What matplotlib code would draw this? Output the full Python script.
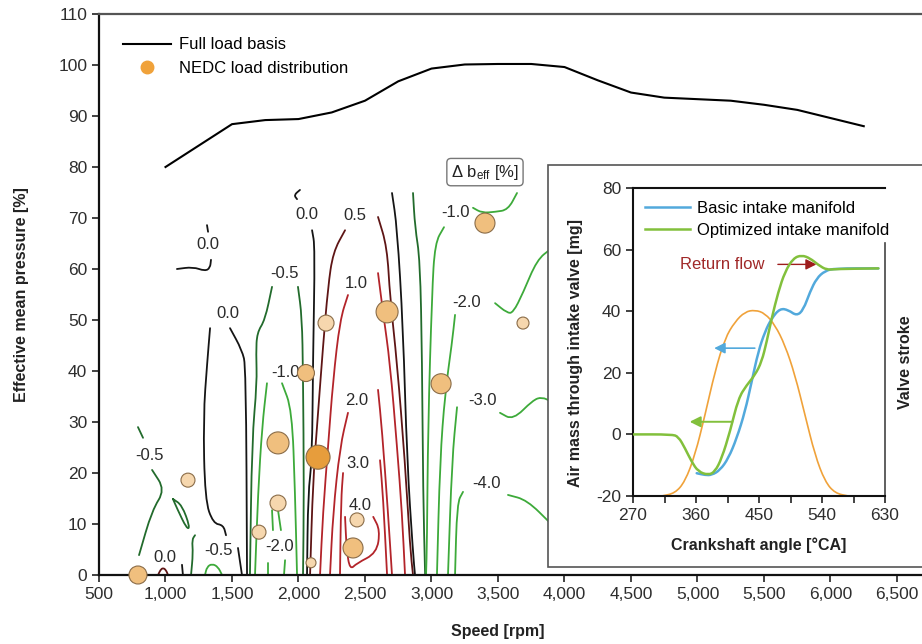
import matplotlib
matplotlib.use("Agg")
import matplotlib.pyplot as plt
from matplotlib.lines import Line2D
from matplotlib.patches import Rectangle, PathPatch
from matplotlib.path import Path
from matplotlib.ticker import FuncFormatter

plt.rcParams['font.family'] = ['Liberation Sans', 'DejaVu Sans']
plt.rcParams['mathtext.fontset'] = 'custom'
plt.rcParams['mathtext.rm'] = 'Liberation Sans'
plt.rcParams['mathtext.it'] = 'Liberation Sans:italic'
plt.rcParams['axes.unicode_minus'] = False

# ---------------- main chart data ----------------
full_load_rpm = [1000, 1250, 1500, 1750, 2000, 2250, 2500, 2750, 3000, 3250, 3500,
                 3750, 4000, 4250, 4500, 4750, 5000, 5250, 5500, 5750, 6000, 6250]
full_load_bmep = [80, 84.2, 88.4, 89.2, 89.4, 90.7, 93, 96.8, 99.3, 100.1, 100.2,
                  100.2, 99.6, 97, 94.6, 93.6, 93.3, 93, 92.2, 91.2, 89.6, 88]

nedc_rpm = [793, 1169, 1703, 1846, 1846, 2056, 2147, 2094, 2207, 2666, 2440, 2410, 3072, 3402, 3688]
nedc_load = [0.0, 18.6, 8.4, 25.9, 14.1, 39.6, 23.1, 2.4, 49.4, 51.6, 10.8, 5.3, 37.5, 69.0, 49.4]
nedc_weight = [9, 7, 7, 11, 8, 8.5, 12, 5, 8, 11, 7, 10, 10, 10, 6]

# iso-lines of delta b_eff [%]: (rpm, load) points
iso_m05_a1 = [(793, 29.0), (831, 26.9)]
iso_m05_a2 = [(899, 20.6), (996, 16.7), (899, 12.7), (801, 3.9)]
iso_m05_loop = [(1056, 14.9), (1124, 13.7), (1184, 9.4), (1161, 9.0), (1086, 13.1), (1056, 14.9)]
iso_p05_arc = [(944, 0), (962, 1.0), (981, 1.4), (1003, 1.0), (1019, 0)]
iso_0_tick_a = [(1124, 2.0), (1131, 0)]
iso_0_upper = [(1086, 60.0), (1207, 60.4), (1297, 59.6), (1335, 60.2), (1342, 61.8)]
iso_0_upper_tick = [(1312, 68.6), (1320, 67.3)]
iso_0_mid_l = [(1335, 48.4), (1314, 41.8), (1284, 31.0), (1297, 14.7), (1359, 10.1), (1435, 9.8), (1455, 7.8)]
iso_0_mid_r = [(1485, 48.4), (1575, 44.1), (1605, 40.8), (1613, 0)]
iso_0_tick_b = [(1545, 5.3), (1575, 0)]
iso_m05_b = [(1222, 7.8), (1199, 6.9), (1207, 4.3), (1192, 0)]
iso_m1_arch = [(1297, 0), (1312, 1.6), (1350, 2.2), (1395, 1.6), (1425, 0)]
iso_m05_c_l = [(1801, 56.5), (1748, 50.0), (1688, 47.5), (1681, 43.5), (1688, 37.6), (1650, 26.5), (1635, 0)]
iso_m05_c_r = [(1996, 56.5), (2026, 50.6), (2034, 39.6), (2041, 16.1), (2034, 0)]
iso_m1_b_l = [(1763, 37.6), (1726, 29.0), (1696, 16.1), (1673, 0)]
iso_m1_b_r = [(1876, 37.6), (1951, 32.4), (1974, 16.1), (1989, 0)]
iso_m2_p1 = [(1801, 12.7), (1808, 8.8)]
iso_m2_p2 = [(1846, 12.7), (1868, 8.8)]
iso_m2_p3 = [(1771, 2.4), (1771, 0)]
iso_m2_p4 = [(1899, 2.9), (1891, 0)]
iso_0_c = [(2102, 67.6), (2124, 64.3), (2109, 42.2), (2102, 22.5), (2072, 16.1), (2064, 0)]
iso_0_c_tick = [(2011, 75.5), (1966, 74.5), (1989, 73.7)]
iso_p05_l = [(2350, 67.6), (2260, 63.3), (2222, 56.5), (2184, 44.7), (2147, 31.8), (2109, 18.6), (2087, 0)]
iso_p05_r = [(2598, 70.2), (2666, 64.3), (2688, 54.5), (2741, 41.6), (2801, 22.0), (2839, 5.5), (2861, 0)]
iso_p1_l = [(2372, 54.9), (2312, 50.0), (2260, 38.2), (2222, 25.1), (2184, 12.2), (2162, 0)]
iso_p1_r = [(2598, 59.2), (2636, 51.4), (2688, 41.6), (2741, 25.1), (2778, 12.2), (2801, 0)]
iso_p2_l = [(2372, 31.8), (2312, 25.1), (2260, 12.2), (2237, 0)]
iso_p2_r = [(2598, 36.3), (2628, 28.4), (2673, 12.2), (2703, 0)]
iso_p3_l = [(2335, 20.0), (2320, 14.7), (2312, 0)]
iso_p3_r = [(2613, 22.5), (2636, 15.3), (2666, 0)]
iso_p4 = [(2350, 11.4), (2362, 4.9), (2387, 1.0), (2438, 2.3), (2588, 4.3), (2613, 8.8), (2562, 11.4)]
iso_0_d = [(2703, 74.9), (2741, 68.2), (2786, 48.6), (2816, 22.5), (2861, 4.3), (2876, 0)]
iso_m05_d = [(2861, 74.9), (2876, 68.2), (2914, 61.8), (2929, 42.2), (2937, 16.1), (2952, 0)]
iso_m1_l = [(3094, 68.2), (3026, 65.1), (3004, 55.3), (2974, 29.0), (2966, 6.3), (2959, 0)]
iso_m1_r = [(3312, 72.0), (3380, 71.0), (3478, 71.2), (3575, 71.6), (3643, 74.9)]
iso_m2_l = [(3177, 51.0), (3154, 45.5), (3102, 35.7), (3064, 22.5), (3041, 0)]
iso_m2_r = [(3478, 53.3), (3568, 51.4), (3613, 51.4), (3688, 55.3), (3793, 61.8), (3900, 64.0)]
iso_m3_l = [(3192, 32.9), (3154, 22.5), (3124, 0)]
iso_m3_r = [(3515, 31.8), (3613, 30.4), (3763, 34.3), (3831, 34.9), (3900, 34.0)]
iso_m4_l = [(3237, 16.3), (3192, 14.1), (3177, 0)]
iso_m4_r = [(3575, 15.7), (3718, 14.7), (3900, 10.0)]

iso_label_text = ["-0.5", "0.0", "0.0", "0.0", "-0.5", "-0.5", "-1.0", "-2.0", "0.0", "0.5",
                  "1.0", "2.0", "3.0", "4.0", "-1.0", "-2.0", "-3.0", "-4.0"]
iso_label_rpm = [883, 1320, 1470, 996, 1395, 1891, 1899, 1861, 2064, 2425,
                 2432, 2440, 2447, 2462, 3177, 3267, 3387, 3417]
iso_label_load = [23.5, 64.9, 51.2, 3.5, 4.9, 59.2, 39.8, 5.5, 70.6, 70.4,
                  57.1, 34.3, 21.8, 13.7, 71.0, 53.5, 34.3, 18.0]

# ---------------- inset data ----------------
basic_deg = [361, 372.9, 382.4, 394.3, 406.2, 418.1, 430, 439.5, 449, 458.6, 468.1, 480,
             491.9, 503.8, 513.3, 522.9, 532.4, 544.3, 558.6, 620.5]
basic_mass = [-12.6, -13.2, -13.2, -11.6, -7.8, -1.3, 7.4, 17.1, 26.9, 33.4, 37.7, 40.9,
              40.4, 38.5, 40.4, 46.3, 50.7, 53.1, 53.9, 53.9]
opt_deg = [270.5, 325.2, 334.8, 344.3, 353.8, 363.3, 377.6, 387.1, 396.7, 408.6, 420.5, 432.4,
           444.3, 453.8, 461, 468.1, 477.6, 487.1, 499, 510.9, 522.9, 534.8, 546.7, 558.6, 620.5]
opt_mass = [0, 0, -0.7, -4.5, -8.9, -12.1, -13.2, -12.1, -7.8, 0.9, 11.7, 16.0,
            19.3, 23.6, 30.1, 37.7, 46.3, 52.8, 57.2, 58.2, 57.2, 55.0, 53.4, 53.7, 53.9]
stroke_deg = [311, 330, 344.3, 358.6, 372.9, 387.1, 401.4, 415.7, 430, 444.3, 458.6, 472.9,
              487.1, 501.4, 515.7, 530, 544.3, 558.6, 577.6]
stroke_val = [-20, -19.1, -15.3, -6.7, 6.3, 20.4, 31.2, 36.6, 39.8, 40.4, 39.3, 35.5,
              29, 19.3, 6.3, -6.7, -15.3, -19.1, -20]

# ---------------- styles ----------------
C_BLACK = '#151515'
C_DKGREEN = '#226b2c'
C_GREEN = '#3daa3a'
C_DKRED = '#5e1515'
C_RED = '#b3242a'
C_BLUE = '#52a9dc'
C_LGREEN = '#82c03c'
C_ORANGE = '#f0a23a'

iso_lines = [
    (iso_m05_a1, C_DKGREEN), (iso_m05_a2, C_DKGREEN), (iso_m05_loop, C_DKGREEN),
    (iso_p05_arc, C_DKRED), (iso_0_tick_a, C_BLACK), (iso_0_upper, C_BLACK),
    (iso_0_upper_tick, C_BLACK), (iso_0_mid_l, C_BLACK), (iso_0_mid_r, C_BLACK),
    (iso_0_tick_b, C_BLACK), (iso_m05_b, C_DKGREEN), (iso_m1_arch, C_GREEN),
    (iso_m05_c_l, C_DKGREEN), (iso_m05_c_r, C_DKGREEN), (iso_m1_b_l, C_GREEN),
    (iso_m1_b_r, C_GREEN), (iso_m2_p1, C_GREEN), (iso_m2_p2, C_GREEN),
    (iso_m2_p3, C_GREEN), (iso_m2_p4, C_GREEN), (iso_0_c, C_BLACK), (iso_0_c_tick, C_BLACK),
    (iso_p05_l, C_DKRED), (iso_p05_r, C_DKRED), (iso_p1_l, C_RED), (iso_p1_r, C_RED),
    (iso_p2_l, C_RED), (iso_p2_r, C_RED), (iso_p3_l, C_RED), (iso_p3_r, C_RED),
    (iso_p4, C_RED), (iso_0_d, C_BLACK), (iso_m05_d, C_DKGREEN),
    (iso_m1_l, C_GREEN), (iso_m1_r, C_GREEN), (iso_m2_l, C_GREEN), (iso_m2_r, C_GREEN),
    (iso_m3_l, C_GREEN), (iso_m3_r, C_GREEN), (iso_m4_l, C_GREEN), (iso_m4_r, C_GREEN),
]


def smooth_path(xs, ys):
    """Polyline through the points with rounded corners (quadratic Bezier at vertices)."""
    pts = list(zip(xs, ys))
    if len(pts) < 3:
        return Path(pts, [Path.MOVETO] + [Path.LINETO] * (len(pts) - 1))
    verts = [pts[0]]
    codes = [Path.MOVETO]
    mid = lambda a, b: ((a[0] + b[0]) / 2, (a[1] + b[1]) / 2)
    verts.append(mid(pts[0], pts[1]))
    codes.append(Path.LINETO)
    for i in range(1, len(pts) - 1):
        verts += [pts[i], mid(pts[i], pts[i + 1])]
        codes += [Path.CURVE3, Path.CURVE3]
    verts.append(pts[-1])
    codes.append(Path.LINETO)
    return Path(verts, codes)


def draw_curve(axis, xs, ys, **kw):
    patch = PathPatch(smooth_path(xs, ys), fill=False, transform=axis.transData,
                      capstyle='round', joinstyle='round', **kw)
    axis.add_patch(patch)
    return patch


W, H = 922, 644
fig = plt.figure(figsize=(W / 100, H / 100), dpi=100)
ax = fig.add_axes([99 / W, 1 - 575 / H, (W - 99) / W, (575 - 14) / H])
ax.set_xlim(500, 6688)
ax.set_ylim(0, 110)

for pts, col in iso_lines:
    xs = [p[0] for p in pts]
    ys = [p[1] for p in pts]
    draw_curve(ax, xs, ys, edgecolor=col, lw=1.3, zorder=2)

for t, x, y in zip(iso_label_text, iso_label_rpm, iso_label_load):
    ax.text(x, y, t, ha='center', va='center', fontsize=12, color='#2a2a2a', zorder=3)

ax.plot(full_load_rpm, full_load_bmep, color='black', lw=1.5, zorder=3)


def bubble_color(w):
    if w >= 11.5:
        return '#e79d3c'
    if w >= 8.5:
        return '#f0bf7e'
    return '#f6d7ae'


sizes = [(2 * w * 0.72) ** 2 for w in nedc_weight]
colors = [bubble_color(w) for w in nedc_weight]
ax.scatter(nedc_rpm, nedc_load, s=sizes, c=colors, edgecolors='#8a6c48',
           linewidths=0.8, zorder=4, clip_on=False)

ax.text(3402, 79.0, r'$\Delta$ b$_{\mathregular{eff}}$ [%]', ha='center', va='center',
        fontsize=12, color='#222', zorder=5,
        bbox=dict(boxstyle='round,pad=0.25', fc='white', ec='#777777', lw=1))

xt = list(range(500, 6501, 500))
ax.set_xticks(xt)
ax.xaxis.set_major_formatter(FuncFormatter(lambda v, p: f"{int(v):,}"))
ax.set_yticks(range(0, 111, 10))
ax.tick_params(direction='out', length=5, width=1.2, labelsize=12.5, labelcolor='#2e2e2e',
               color='#222')
for s in ['left', 'bottom']:
    ax.spines[s].set_linewidth(1.6)
    ax.spines[s].set_color('#111')
ax.spines['top'].set_color('#555')
ax.spines['top'].set_linewidth(1.6)
ax.spines['right'].set_visible(False)

ax.set_xlabel('Speed [rpm]', fontsize=11.5, fontweight='bold', color='#222')
ax.xaxis.set_label_coords(0.484, -0.088)
ax.set_ylabel('Effective mean pressure [%]', fontsize=11.5, fontweight='bold', color='#222')
ax.yaxis.set_label_coords(-0.085, 0.5)

handles = [Line2D([], [], color='black', lw=1.5),
           Line2D([], [], marker='o', ls='', color=C_ORANGE, markersize=9,
                  markeredgecolor=C_ORANGE)]
ax.legend(handles, ['Full load basis', 'NEDC load distribution'], loc='upper left',
          bbox_to_anchor=(0.011, 0.985), frameon=False, fontsize=12, handlelength=2.9,
          handletextpad=0.45, labelspacing=0.5, borderpad=0.4)

# ---------------- inset ----------------
box = Rectangle((548 / W, 1 - 567 / H), (W - 548) / W + 0.02, (567 - 165) / H,
                transform=fig.transFigure, fc='white', ec='#555555', lw=1.2, zorder=5)
fig.add_artist(box)

axi = fig.add_axes([633 / W, 1 - 496 / H, 252 / W, 308 / H])
axi.set_zorder(10)
axi.patch.set_alpha(0)
axi.set_xlim(270, 630)
axi.set_ylim(-20, 80)

draw_curve(axi, stroke_deg, stroke_val, edgecolor=C_ORANGE, lw=1.2, zorder=2)
draw_curve(axi, basic_deg, basic_mass, edgecolor=C_BLUE, lw=1.8, zorder=3)
draw_curve(axi, opt_deg, opt_mass, edgecolor=C_LGREEN, lw=1.8, zorder=4)

axi.annotate('', xy=(382, 28), xytext=(448, 28),
             arrowprops=dict(arrowstyle='-|>', color=C_BLUE, lw=1.2, mutation_scale=16))
axi.annotate('', xy=(347, 4.1), xytext=(416, 4.1),
             arrowprops=dict(arrowstyle='-|>', color=C_LGREEN, lw=1.4, mutation_scale=16))
axi.annotate('', xy=(536, 55.2), xytext=(473, 55.2),
             arrowprops=dict(arrowstyle='-|>', color='#9e1c1c', lw=1.0, mutation_scale=16))
axi.text(458, 55.2, 'Return flow', ha='right', va='center', fontsize=12, color='#a02828')

axi.set_xticks([270, 360, 450, 540, 630])
axi.set_xticks([315, 405, 495, 585], minor=True)
axi.set_yticks(range(-20, 81, 20))
axi.tick_params(which='both', direction='out', length=5, width=1.2, labelsize=12.5,
                labelcolor='#2e2e2e', color='#222')
for s in ['left', 'bottom', 'top']:
    axi.spines[s].set_linewidth(1.5)
    axi.spines[s].set_color('#111')
axi.spines['right'].set_linewidth(1.2)
axi.spines['right'].set_color('#444')
axi.spines['right'].set_bounds(-20, 62)

axi.set_xlabel('Crankshaft angle [°CA]', fontsize=11.5, fontweight='bold', color='#222')
axi.xaxis.set_label_coords(0.5, -0.135)
axi.set_ylabel('Air mass through intake valve [mg]', fontsize=11.5, fontweight='bold',
               color='#222')
axi.yaxis.set_label_coords(-0.2, 0.464)
axi.text(1.08, 0.435, 'Valve stroke', rotation=90, ha='center', va='center',
         transform=axi.transAxes, fontsize=11.5, fontweight='bold', color='#222')

leg_handles = [Line2D([], [], color=C_BLUE, lw=1.8), Line2D([], [], color=C_LGREEN, lw=1.8)]
axi.legend(leg_handles, ['Basic intake manifold', 'Optimized intake manifold'],
           loc='upper left', bbox_to_anchor=(0.0, 0.997), frameon=False, fontsize=12,
           handlelength=2.7, handletextpad=0.45, labelspacing=0.42, borderpad=0.2)

fig.savefig('out.png', dpi=100)
